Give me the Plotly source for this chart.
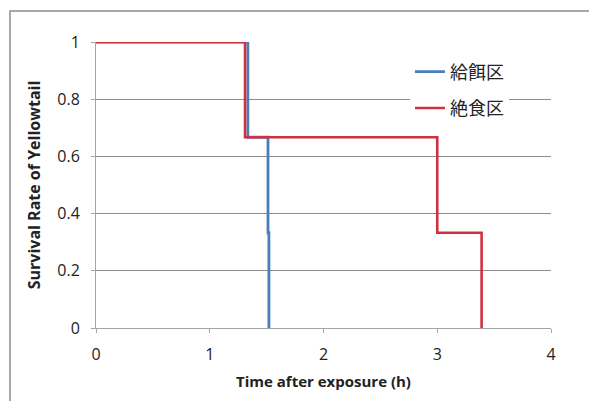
import plotly.graph_objects as go

# Data
fed_time = [0, 1.335, 1.335, 1.512, 1.512, 1.52, 1.52]
fed_surv = [1, 1, 0.667, 0.667, 0.333, 0.333, 0]
fast_time = [0, 1.31, 1.31, 3.0, 3.0, 3.39, 3.39]
fast_surv = [1, 1, 0.667, 0.667, 0.333, 0.333, 0]
series_names = ["給餌区", "絶食区"]
x_ticks = [0, 1, 2, 3, 4]
y_ticks = [0, 0.2, 0.4, 0.6, 0.8, 1]
y_tick_labels = ["0", "0.2", "0.4", "0.6", "0.8", "1"]

BLUE = "#4a7ebb"
RED = "#d0313f"

fig = go.Figure()
fig.add_trace(go.Scatter(x=fed_time, y=fed_surv, mode="lines", name=series_names[0],
                         legendgroup="a",
                         line=dict(color=BLUE, width=2.8), cliponaxis=False))
fig.add_trace(go.Scatter(x=fast_time, y=fast_surv, mode="lines", name=series_names[1],
                         legendgroup="b",
                         line=dict(color=RED, width=2.6), cliponaxis=False))

font_main = "Open Sans, Liberation Sans, sans-serif"
fig.update_layout(
    width=589, height=401,
    margin=dict(l=96, r=38, t=42, b=73),
    paper_bgcolor="white", plot_bgcolor="white",
    showlegend=True,
    legend=dict(x=0.69, y=0.96, xanchor="left", yanchor="top",
                bgcolor="white", font=dict(family="Noto Sans CJK JP", size=18, color="#222"),
                tracegroupgap=10, itemwidth=30),
    xaxis=dict(range=[0, 4], tickvals=x_ticks, showgrid=False, zeroline=False,
               showline=True, linecolor="#a6a6a6", linewidth=1,
               ticks="outside", ticklen=4, tickcolor="#a6a6a6",
               ticklabelstandoff=8,
               tickfont=dict(family=font_main, size=16, color="#222"),
               title=dict(text="<b>Time after exposure (h)</b>", standoff=12,
                          font=dict(family=font_main, size=15, color="#222"))),
    yaxis=dict(range=[0, 1], tickvals=y_ticks, ticktext=y_tick_labels,
               showgrid=True, gridcolor="#8c8c8c", gridwidth=1, zeroline=False,
               showline=True, linecolor="#a6a6a6", linewidth=1,
               ticks="outside", ticklen=4, tickcolor="#a6a6a6",
               ticklabelstandoff=8,
               tickfont=dict(family=font_main, size=16, color="#222"),
               title=dict(text="<b>Survival Rate of Yellowtail</b>", standoff=12,
                          font=dict(family=font_main, size=16, color="#222"))),
    shapes=[dict(type="rect", xref="paper", yref="paper",
                 x0=-0.189, x1=1.2, y0=-0.3, y1=1.108,
                 line=dict(color="#8c8c8c", width=1.5), layer="below")],
)

fig.write_html("out.html")
